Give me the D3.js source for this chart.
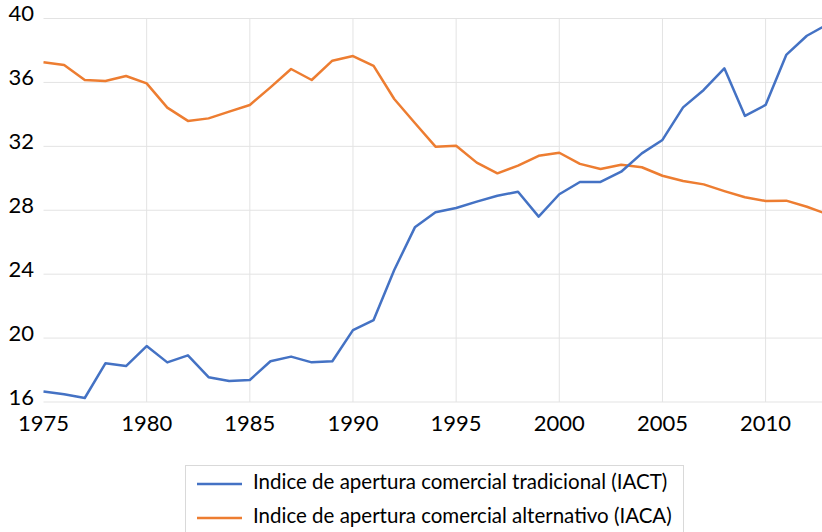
<!DOCTYPE html>
<html>
<head>
<meta charset="utf-8">
<script src="https://cdn.jsdelivr.net/npm/d3@7"></script>
<style>
  body { margin: 0; background: #fff; }
  svg { display: block; font-family: Lato, "Noto Sans", sans-serif; }
</style>
</head>
<body>
<div id="chart"></div>
<script>
const years = d3.range(1975, 2014);
const iact = [16.65, 16.48, 16.25, 18.42, 18.25, 19.5, 18.48, 18.92, 17.55, 17.32,
  17.38, 18.55, 18.84, 18.48, 18.55, 20.5, 21.13, 24.26, 26.93, 27.87,
  28.14, 28.54, 28.91, 29.16, 27.6, 29.0, 29.77, 29.77, 30.41, 31.56,
  32.4, 34.44, 35.53, 36.88, 33.9, 34.59, 37.72, 38.92, 39.63];
const iaca = [37.26, 37.09, 36.15, 36.09, 36.4, 35.94, 34.42, 33.59, 33.75, 34.17,
  34.59, 35.69, 36.84, 36.15, 37.36, 37.65, 37.03, 34.96, 33.46, 31.98,
  32.04, 30.98, 30.31, 30.79, 31.41, 31.6, 30.9, 30.58, 30.85, 30.69,
  30.16, 29.83, 29.62, 29.2, 28.81, 28.58, 28.6, 28.22, 27.75];
const yTicks = [16, 20, 24, 28, 32, 36, 40];
const xTicks = [1975, 1980, 1985, 1990, 1995, 2000, 2005, 2010];
const seriesNames = [
  "Indice de apertura comercial tradicional (IACT)",
  "Indice de apertura comercial alternativo (IACA)"
];
const colors = ["#4472C4", "#ED7D31"];

const width = 822, height = 532;
const svg = d3.select("#chart").append("svg")
  .attr("width", width).attr("height", height);

const x = d3.scaleLinear().domain([1975, 2013]).range([43.5, 827.5]);
const y = d3.scaleLinear().domain([16, 40]).range([402, 18.5]);

// gridlines
svg.append("g").selectAll("line").data(yTicks).join("line")
  .attr("x1", x(1975)).attr("x2", width)
  .attr("y1", d => y(d)).attr("y2", d => y(d))
  .attr("stroke", "#e3e3e3").attr("stroke-width", 1);
svg.append("g").selectAll("line").data(xTicks.slice(1)).join("line")
  .attr("x1", d => x(d)).attr("x2", d => x(d))
  .attr("y1", y(40)).attr("y2", y(16))
  .attr("stroke", "#e3e3e3").attr("stroke-width", 1);

// y labels
svg.append("g").selectAll("text").data(yTicks).join("text")
  .attr("x", 34).attr("y", d => y(d) - 3)
  .attr("text-anchor", "end").attr("dominant-baseline", "middle")
  .attr("font-size", 22).attr("fill", "#000")
  .text(d => d);

// x labels
svg.append("g").selectAll("text").data(xTicks).join("text")
  .attr("x", d => x(d)).attr("y", 431)
  .attr("text-anchor", "middle")
  .attr("font-size", 22).attr("fill", "#000")
  .text(d => d);

const line = d3.line().x((d, i) => x(years[i])).y(d => y(d));

[iaca, iact].forEach((s, k) => {
  svg.append("path").datum(s)
    .attr("fill", "none")
    .attr("stroke", colors[1 - k])
    .attr("stroke-width", 2.5)
    .attr("stroke-linejoin", "round")
    .attr("d", line);
});

// legend
const lg = svg.append("g");
lg.append("rect").attr("x", 185.5).attr("y", 465.5)
  .attr("width", 498).attr("height", 80)
  .attr("fill", "none").attr("stroke", "#d9d9d9");
seriesNames.forEach((name, i) => {
  const cy = 484 + i * 34;
  lg.append("line").attr("x1", 197).attr("x2", 242)
    .attr("y1", cy).attr("y2", cy)
    .attr("stroke", colors[i]).attr("stroke-width", 2.5);
  lg.append("text").attr("x", 253).attr("y", cy)
    .attr("dominant-baseline", "middle")
    .attr("font-size", 20.5).attr("fill", "#000")
    .text(name);
});
</script>
</body>
</html>
